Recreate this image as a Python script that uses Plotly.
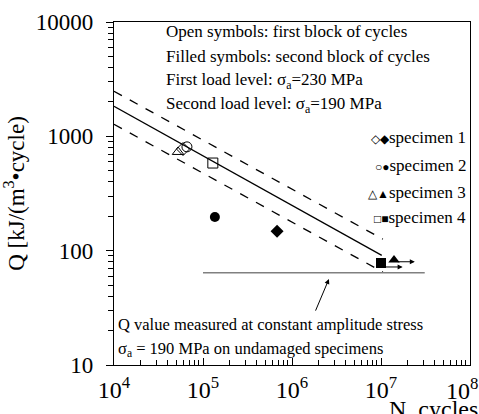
import plotly.graph_objects as go
import numpy as np

# ---- data ----
specimens = ["specimen 1", "specimen 2", "specimen 3", "specimen 4"]
open_N = [5.96e4, 6.6e4, 5.24e4, 1.29e5]
open_Q = [774, 809, 730, 584]
filled_N = [6.8e5, 1.36e5, 1.4e7, 1.0e7]
filled_Q = [148, 197, 83, 78]
symbols_open = ["diamond-open", "circle-open", "triangle-up-open", "square-open"]
symbols_filled = ["diamond", "circle", "triangle-up", "square"]

fit_N = [1e4, 1.02e7]
fit_Q = [1830, 91]
upper_N = [1e4, 1.05e7]
upper_Q = [2480, 126]
lower_N = [1e4, 1.05e7]
lower_Q = [1275, 65]
ref_N = [1e5, 3.1e7]
ref_Q = [64, 64]

# run-out arrows: (start N, end N, Q)
runout_start_N = [1.07e7, 1.48e7]
runout_end_N = [1.75e7, 2.4e7]
runout_Q = [72, 80]

# pointer arrow (tail -> head)
pointer_tail = (1.81e6, 29)
pointer_head = (2.6e6, 56.5)

x_ticks = [1e4, 1e5, 1e6, 1e7, 1e8]
x_ticktext = ["10<sup>4</sup>", "10<sup>5</sup>", "10<sup>6</sup>", "10<sup>7</sup>", ""]
x_last_label = "10<sup>8</sup>"
y_ticks = [10, 100, 1000, 10000]
y_ticktext = ["10", "100", "1000", "10000"]

FONT = "Liberation Serif, Times New Roman, serif"

fig = go.Figure()
fig.add_trace(go.Scatter(x=fit_N, y=fit_Q, mode="lines", line=dict(color="black", width=1.3), showlegend=False))
fig.add_trace(go.Scatter(x=upper_N, y=upper_Q, mode="lines", line=dict(color="black", width=1.3, dash="dash"), showlegend=False))
fig.add_trace(go.Scatter(x=lower_N, y=lower_Q, mode="lines", line=dict(color="black", width=1.3, dash="dash"), showlegend=False))
fig.add_trace(go.Scatter(x=ref_N, y=ref_Q, mode="lines", line=dict(color="#808080", width=1.5), showlegend=False))

for i in range(4):
    fig.add_trace(go.Scatter(x=[open_N[i]], y=[open_Q[i]], mode="markers",
                             marker=dict(symbol=symbols_open[i], size=10, color="black", line=dict(width=1)),
                             showlegend=False))
    fig.add_trace(go.Scatter(x=[filled_N[i]], y=[filled_Q[i]], mode="markers",
                             marker=dict(symbol=symbols_filled[i], size=10, color="black"),
                             showlegend=False))

for n0, n1, q in zip(runout_start_N, runout_end_N, runout_Q):
    fig.add_annotation(x=np.log10(n1), y=np.log10(q), ax=np.log10(n0), ay=np.log10(q),
                       xref="x", yref="y", axref="x", ayref="y", text="", showarrow=True,
                       arrowhead=2, arrowsize=1, arrowwidth=1, arrowcolor="black")

fig.add_annotation(x=np.log10(pointer_head[0]), y=np.log10(pointer_head[1]),
                   ax=np.log10(pointer_tail[0]), ay=np.log10(pointer_tail[1]),
                   xref="x", yref="y", axref="x", ayref="y", text="", showarrow=True,
                   arrowhead=2, arrowsize=1, arrowwidth=1, arrowcolor="black")

top_lines = ["Open symbols: first block of cycles",
             "Filled symbols: second block of cycles",
             "First load level: σ<sub>a</sub>=230 MPa",
             "Second load level: σ<sub>a</sub>=190 MPa"]
top_y = [0.971, 0.899, 0.828, 0.757]
for t, yy in zip(top_lines, top_y):
    fig.add_annotation(x=0.14, y=yy, xref="paper", yref="paper", text=t, showarrow=False,
                       xanchor="left", yanchor="middle", font=dict(family=FONT, size=17, color="black"))

leg_glyphs = ["◇◆", "○●", "△▲", "□■"]
leg_y = [0.662, 0.583, 0.504, 0.429]
for g, t, yy in zip(leg_glyphs, specimens, leg_y):
    fig.add_annotation(x=0.994, y=yy, xref="paper", yref="paper",
                       text="<span style='font-size:12px'>" + g + "</span>" + t, showarrow=False,
                       xanchor="right", yanchor="middle", font=dict(family=FONT, size=17, color="black"))

fig.add_annotation(x=0.006, y=0.117, xref="paper", yref="paper",
                   text="Q value measured at constant amplitude stress", showarrow=False,
                   xanchor="left", yanchor="middle", font=dict(family=FONT, size=16.5, color="black"))
fig.add_annotation(x=0.006, y=0.047, xref="paper", yref="paper",
                   text="σ<sub>a</sub> = 190 MPa on undamaged specimens", showarrow=False,
                   xanchor="left", yanchor="middle", font=dict(family=FONT, size=16.5, color="black"))

# last x tick label kept inside the picture
fig.add_annotation(x=1.028, y=-0.02, xref="paper", yref="paper", text=x_last_label, showarrow=False,
                   xanchor="right", yanchor="top", font=dict(family=FONT, size=24, color="black"))

fig.add_annotation(x=1.028, y=-0.128, xref="paper", yref="paper", text="N, cycles", showarrow=False,
                   xanchor="right", yanchor="middle", font=dict(family=FONT, size=24, color="black"))

fig.update_xaxes(type="log", range=[4, 8], tickvals=x_ticks, ticktext=x_ticktext, automargin=False,
                 ticks="inside", ticklen=7, tickwidth=1, tickcolor="black", ticklabeloverflow="allow",
                 ticklabelstandoff=3,
                 showline=True, linecolor="black", linewidth=1.2, mirror=True, showgrid=False, zeroline=False,
                 minor=dict(ticks="inside", ticklen=5, tickcolor="black", dtick="D1", showgrid=False),
                 tickfont=dict(family=FONT, size=24, color="black"))
fig.update_yaxes(type="log", range=[1, 4], tickvals=y_ticks, ticktext=y_ticktext, automargin=False,
                 ticks="outside", ticklen=7, tickwidth=1, tickcolor="black", ticklabeloverflow="allow",
                 ticklabelstandoff=8,
                 showline=True, linecolor="black", linewidth=1.2, mirror=True, showgrid=False, zeroline=False,
                 minor=dict(ticks="outside", ticklen=5, tickcolor="black", dtick="D1", showgrid=False),
                 tickfont=dict(family=FONT, size=23, color="black"),
                 title=dict(text="Q [kJ/(m<sup>3</sup>•cycle)", font=dict(family=FONT, size=23, color="black"), standoff=8))

fig.update_layout(width=479, height=414, margin=dict(l=114, r=9, t=22, b=49),
                  plot_bgcolor="white", paper_bgcolor="white", showlegend=False)
fig.write_html("out.html", config={"displayModeBar": False},
               post_script="document.body.style.margin='0';document.body.style.padding='0';document.body.style.overflow='hidden';")
